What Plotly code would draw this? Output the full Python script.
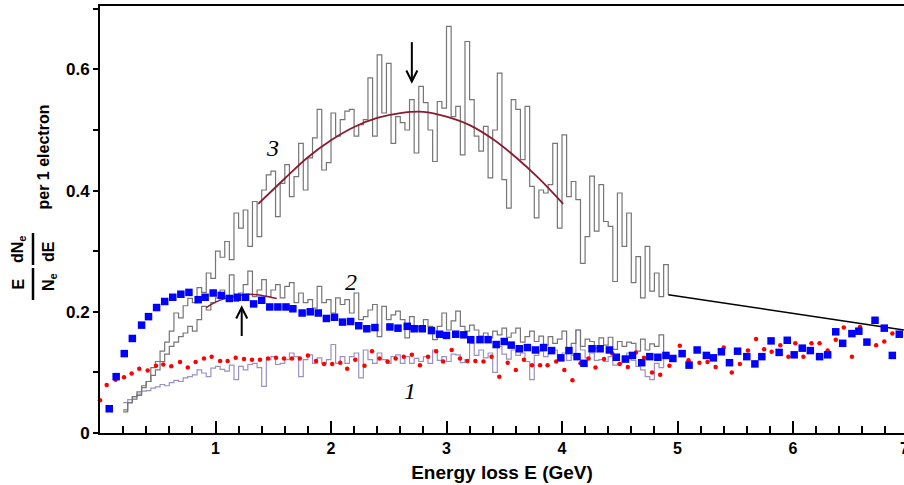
import numpy as np
import plotly.graph_objects as go

# ---------------- data ----------------
bin_start = 0.20
bin_width = 0.04

hist3_vals = [0.035, 0.05, 0.056, 0.062, 0.075, 0.085, 0.108, 0.118, 0.135, 0.15,
              0.168, 0.198, 0.19, 0.21, 0.222, 0.215, 0.24, 0.232, 0.264, 0.255,
              0.30, 0.29, 0.316, 0.286, 0.363, 0.338, 0.368, 0.308, 0.382, 0.324,
              0.401, 0.426, 0.432, 0.357, 0.412, 0.443, 0.39, 0.423, 0.478, 0.401,
              0.454, 0.487, 0.534, 0.434, 0.446, 0.528, 0.49, 0.517, 0.531, 0.534,
              0.49, 0.509, 0.517, 0.586, 0.49, 0.624, 0.528, 0.61, 0.478, 0.522,
              0.512, 0.50, 0.55, 0.462, 0.572, 0.545, 0.50, 0.448, 0.547, 0.536,
              0.671, 0.522, 0.539, 0.459, 0.646, 0.55, 0.49, 0.465, 0.506, 0.421,
              0.50, 0.594, 0.418, 0.371, 0.55, 0.534, 0.451, 0.539, 0.407, 0.355,
              0.401, 0.396, 0.41, 0.478, 0.338, 0.492, 0.39, 0.415, 0.385, 0.28,
              0.324, 0.424, 0.333, 0.41, 0.349, 0.341, 0.25, 0.396, 0.308, 0.363,
              0.248, 0.291, 0.223, 0.308, 0.234, 0.264, 0.225, 0.278]

hist2_vals = [0.038, 0.05, 0.06, 0.068, 0.078, 0.085, 0.095, 0.104, 0.118, 0.13,
              0.143, 0.15, 0.159, 0.165, 0.176, 0.168, 0.187, 0.209, 0.203, 0.215,
              0.223, 0.236, 0.225, 0.261, 0.217, 0.231, 0.245, 0.267, 0.225, 0.236,
              0.253, 0.225, 0.236, 0.245, 0.223, 0.242, 0.248, 0.215, 0.231, 0.215,
              0.22, 0.206, 0.242, 0.215, 0.22, 0.198, 0.223, 0.212, 0.22, 0.198,
              0.231, 0.187, 0.192, 0.203, 0.212, 0.159, 0.209, 0.187, 0.195, 0.201,
              0.187, 0.157, 0.192, 0.176, 0.17, 0.187, 0.176, 0.154, 0.176, 0.198,
              0.17, 0.185, 0.201, 0.176, 0.168, 0.178, 0.17, 0.16, 0.165, 0.157,
              0.168, 0.162, 0.173, 0.158, 0.165, 0.173, 0.15, 0.159, 0.168, 0.151,
              0.16, 0.145, 0.159, 0.148, 0.155, 0.168, 0.14, 0.148, 0.17, 0.143,
              0.155, 0.151, 0.14, 0.157, 0.145, 0.158, 0.138, 0.151, 0.143, 0.15,
              0.148, 0.135, 0.155, 0.137, 0.147, 0.143, 0.162, 0.124]

hist1_vals = [0.05, 0.055, 0.06, 0.064, 0.069, 0.07, 0.074, 0.076, 0.08, 0.078,
              0.083, 0.087, 0.085, 0.091, 0.093, 0.096, 0.104, 0.099, 0.093, 0.107,
              0.11, 0.105, 0.102, 0.112, 0.088, 0.11, 0.104, 0.113, 0.115, 0.108,
              0.077, 0.121, 0.126, 0.113, 0.115, 0.121, 0.132, 0.126, 0.093, 0.121,
              0.129, 0.115, 0.124, 0.115, 0.121, 0.146, 0.115, 0.126, 0.115, 0.126,
              0.132, 0.091, 0.137, 0.121, 0.115, 0.132, 0.121, 0.115, 0.126, 0.129,
              0.115, 0.126, 0.115, 0.123, 0.118, 0.126, 0.115, 0.137, 0.12, 0.126,
              0.118, 0.13, 0.129, 0.116, 0.121, 0.148, 0.128, 0.137, 0.124, 0.132,
              0.10, 0.143, 0.13, 0.122, 0.137, 0.128, 0.132, 0.118, 0.088, 0.128,
              0.135, 0.126, 0.131, 0.137, 0.125, 0.132, 0.12, 0.128, 0.17, 0.137,
              0.124, 0.132, 0.12, 0.121, 0.118, 0.126, 0.112, 0.115, 0.127, 0.132,
              0.12, 0.11, 0.104, 0.093, 0.088, 0.115, 0.108, 0.132]

tail_x = [4.92, 6.96]
tail_y = [0.228, 0.170]

fit3_x = [1.37, 1.6, 1.8, 2.0, 2.2, 2.4, 2.6, 2.8, 3.0, 3.2, 3.4, 3.6, 3.8, 4.01]
fit3_y = [0.378, 0.42, 0.455, 0.483, 0.505, 0.52, 0.528, 0.53, 0.522, 0.508, 0.485, 0.455, 0.42, 0.378]

fit2_x = [0.92, 1.0, 1.1, 1.2, 1.3, 1.4, 1.53]
fit2_y = [0.207, 0.216, 0.223, 0.227, 0.229, 0.227, 0.222]

blue_x = [0.08, 0.14, 0.21, 0.28, 0.36, 0.42, 0.49, 0.56, 0.63, 0.70, 0.77, 0.85, 0.91, 0.98,
          1.05, 1.12, 1.19, 1.26, 1.33, 1.40, 1.47, 1.54, 1.61, 1.67, 1.75, 1.82, 1.89, 1.96,
          2.03, 2.10, 2.17, 2.24, 2.31, 2.38, 2.51, 2.58, 2.66, 2.72, 2.79, 2.87, 2.94, 3.00,
          3.08, 3.15, 3.21, 3.29, 3.36, 3.43, 3.50, 3.56, 3.63, 3.70, 3.77, 3.84, 3.91, 3.99,
          4.06, 4.13, 4.19, 4.26, 4.33, 4.41, 4.47, 4.55, 4.61, 4.69, 4.76, 4.83, 4.90, 4.96,
          5.04, 5.10, 5.17, 5.25, 5.31, 5.38, 5.45, 5.52, 5.60, 5.67, 5.73, 5.81, 5.88, 5.95,
          6.01, 6.08, 6.15, 6.23, 6.30, 6.37, 6.43, 6.51, 6.57, 6.64, 6.71, 6.79, 6.86, 6.92]
blue_y = [0.040, 0.093, 0.131, 0.156, 0.178, 0.192, 0.207, 0.217, 0.224, 0.229, 0.232, 0.220, 0.224, 0.231,
          0.227, 0.222, 0.224, 0.224, 0.213, 0.219, 0.208, 0.208, 0.208, 0.205, 0.198, 0.200, 0.198, 0.189,
          0.191, 0.183, 0.184, 0.177, 0.172, 0.174, 0.175, 0.173, 0.176, 0.172, 0.172, 0.169, 0.163, 0.161,
          0.163, 0.162, 0.154, 0.154, 0.154, 0.146, 0.151, 0.145, 0.139, 0.141, 0.137, 0.141, 0.136, 0.124,
          0.136, 0.126, 0.115, 0.139, 0.139, 0.137, 0.125, 0.122, 0.128, 0.116, 0.126, 0.125, 0.128, 0.123,
          0.131, 0.112, 0.137, 0.128, 0.124, 0.134, 0.116, 0.135, 0.126, 0.114, 0.126, 0.152, 0.133, 0.153,
          0.129, 0.140, 0.136, 0.126, 0.129, 0.167, 0.148, 0.164, 0.168, 0.150, 0.186, 0.173, 0.128, 0.163]

red_x = [0.0, 0.058, 0.135, 0.208, 0.274, 0.34, 0.413, 0.485, 0.548, 0.617, 0.693, 0.76, 0.828, 0.90,
         0.967, 1.04, 1.105, 1.175, 1.247, 1.316, 1.385, 1.455, 1.524, 1.593, 1.662, 1.73, 1.80, 1.87,
         1.94, 2.01, 2.08, 2.14, 2.21, 2.29, 2.355, 2.42, 2.49, 2.56, 2.63, 2.70, 2.77, 2.84, 2.91,
         2.97, 3.045, 3.117, 3.18, 3.25, 3.32, 3.39, 3.457, 3.53, 3.60, 3.67, 3.74, 3.81, 3.875, 3.95,
         4.02, 4.09, 4.16, 4.23, 4.29, 4.364, 4.435, 4.50, 4.57, 4.64, 4.71, 4.78, 4.85, 4.93,
         5.02, 5.095, 5.19, 5.26, 5.33, 5.40, 5.47, 5.54, 5.61, 5.68, 5.75, 5.815, 5.89, 5.96,
         6.02, 6.09, 6.16, 6.23, 6.30, 6.37, 6.44, 6.51, 6.58, 6.72, 6.79, 6.86]
red_y = [0.054, 0.079, 0.088, 0.092, 0.098, 0.106, 0.103, 0.111, 0.113, 0.110, 0.117, 0.108, 0.117, 0.123,
         0.126, 0.119, 0.119, 0.124, 0.122, 0.121, 0.121, 0.123, 0.124, 0.123, 0.123, 0.123, 0.128, 0.119,
         0.114, 0.114, 0.116, 0.106, 0.121, 0.111, 0.135, 0.123, 0.118, 0.123, 0.126, 0.129, 0.112, 0.126, 0.135,
         0.118, 0.137, 0.123, 0.119, 0.119, 0.118, 0.126, 0.093, 0.116, 0.104, 0.121, 0.112, 0.112, 0.112, 0.118,
         0.104, 0.087, 0.115, 0.123, 0.108, 0.122, 0.131, 0.114, 0.109, 0.133, 0.124, 0.100, 0.096, 0.111,
         0.144, 0.120, 0.116, 0.117, 0.109, 0.141, 0.100, 0.114, 0.136, 0.155, 0.138, 0.134, 0.145, 0.126,
         0.148, 0.126, 0.148, 0.148, 0.136, 0.154, 0.174, 0.126, 0.175, 0.145, 0.151, 0.164]

# arrows: (x, tail y, tip y)
arrow_down = (2.70, 0.645, 0.580)
arrow_up = (1.227, 0.160, 0.207)

curve_labels = ["3", "2", "1"]
curve_label_x = [1.49, 2.17, 2.68]
curve_label_y = [0.47, 0.25, 0.069]

x_ticks = [1, 2, 3, 4, 5, 6, 7]
y_ticks = [0, 0.2, 0.4, 0.6]
y_ticktext = ["0", "0.2", "0.4", "0.6"]

# ---------------- figure ----------------
W, H = 904, 485
ML, MR, MT, MB = 100, 0, 6, 52
XR = [0, 6.961]
YR = [0, 0.7046]


def step_xy(vals, end_y=None):
    edges = bin_start + bin_width * np.arange(len(vals) + 1)
    xs = list(edges)
    ys = list(vals) + [vals[-1] if end_y is None else end_y]
    return xs, ys


fig = go.Figure()

for vals, col, endy in [(hist1_vals, "#9b90c4", None),
                        (hist2_vals, "#767676", None),
                        (hist3_vals, "#767676", tail_y[0])]:
    xs, ys = step_xy(vals, endy)
    fig.add_trace(go.Scatter(x=xs, y=ys, mode="lines", line=dict(color=col, width=1.2, shape="hv"),
                             hoverinfo="skip", showlegend=False))

fig.add_trace(go.Scatter(x=tail_x, y=tail_y, mode="lines", line=dict(color="black", width=1.5),
                         showlegend=False))
fig.add_trace(go.Scatter(x=fit3_x, y=fit3_y, mode="lines", line=dict(color="#8b1a2e", width=1.8, shape="spline"),
                         showlegend=False))
fig.add_trace(go.Scatter(x=fit2_x, y=fit2_y, mode="lines", line=dict(color="#8b1a2e", width=1.5, shape="spline"),
                         showlegend=False))
fig.add_trace(go.Scatter(x=red_x, y=red_y, mode="markers",
                         marker=dict(color="#ff0000", size=4.5, symbol="circle", line=dict(width=0)),
                         showlegend=False, cliponaxis=False))
fig.add_trace(go.Scatter(x=blue_x, y=blue_y, mode="markers",
                         marker=dict(color="#0000ff", size=7.5, symbol="square", line=dict(width=0)),
                         showlegend=False, cliponaxis=False))

# arrows drawn as shapes in data coordinates
px_x = (W - ML - MR) / (XR[1] - XR[0])
px_y = (H - MT - MB) / (YR[1] - YR[0])
head_hw = 5.5 / px_x
head_h = 11 / px_y
for (ax_, ytail, ytip) in [arrow_down, arrow_up]:
    sgn = 1 if ytip > ytail else -1
    fig.add_shape(type="line", xref="x", yref="y", x0=ax_, x1=ax_, y0=ytail, y1=ytip,
                  line=dict(color="black", width=2))
    base = ytip - sgn * head_h
    fig.add_shape(type="path", xref="x", yref="y",
                  path=f"M {ax_ - head_hw},{base} L {ax_},{ytip} L {ax_ + head_hw},{base}",
                  line=dict(color="black", width=2))

for t, lx, ly in zip(curve_labels, curve_label_x, curve_label_y):
    fig.add_annotation(x=lx, y=ly, xref="x", yref="y", text=t, showarrow=False,
                       font=dict(family="Liberation Serif, Times New Roman, serif", size=24,
                                 style="italic", color="black"))


def pxp(px, py):
    return (px - ML) / (W - ML - MR), (H - MB - py) / (H - MT - MB)


bold = dict(family="Liberation Sans, Arial, sans-serif", size=16, color="black", weight="bold")

for txt, (px, py) in [("E", (18, 284.5)), ("dN<sub>e</sub>", (19, 249)),
                      ("N<sub>e</sub>", (49, 282)), ("dE", (48, 252))]:
    xp, yp = pxp(px, py)
    fig.add_annotation(x=xp, y=yp, xref="paper", yref="paper", text=txt, textangle=-90,
                       showarrow=False, font=bold, xanchor="center", yanchor="middle")

for (y0, y1) in [(268, 300), (233, 265)]:
    xa, ya = pxp(33, y0)
    xb, yb = pxp(33, y1)
    fig.add_shape(type="line", xref="paper", yref="paper", x0=xa, x1=xb, y0=ya, y1=yb,
                  line=dict(color="black", width=2.5))

xp, yp = pxp(33, 157)
fig.add_annotation(x=xp, y=yp, xref="paper", yref="paper", text="per 1 electron", textangle=-90,
                   showarrow=False, font=dict(family="Liberation Sans, Arial, sans-serif", size=16,
                                              color="black", weight="bold"))

xp, yp = pxp(904, 448)
fig.add_annotation(x=xp, y=yp, xref="paper", yref="paper", text="7", showarrow=False,
                   xanchor="left", yanchor="middle", xshift=-6,
                   font=dict(family="Liberation Sans, Arial, sans-serif", size=16, color="black",
                             weight="bold"))

fig.update_layout(
    width=W, height=H,
    margin=dict(l=ML, r=MR, t=MT, b=MB, pad=0, autoexpand=False),
    paper_bgcolor="white", plot_bgcolor="white",
    showlegend=False,
    xaxis=dict(range=XR, showgrid=False, zeroline=False, showline=True, linecolor="black",
               linewidth=2, mirror=True, tickmode="array", tickvals=x_ticks, automargin=False,
               ticks="inside", ticklen=12, tickwidth=2, tickcolor="black",
               tickfont=dict(family="Liberation Sans, Arial, sans-serif", size=16, color="black",
                             weight="bold"),
               minor=dict(dtick=0.2, tick0=0, ticks="inside", ticklen=7, tickwidth=2,
                          tickcolor="black", showgrid=False),
               title=dict(text="Energy loss E (GeV)", standoff=9,
                          font=dict(family="Liberation Sans, Arial, sans-serif", size=19,
                                    color="black", weight="bold"))),
    yaxis=dict(range=YR, showgrid=False, zeroline=False, showline=True, linecolor="black",
               linewidth=2, mirror=False, tickmode="array", tickvals=y_ticks, ticktext=y_ticktext,
               ticks="outside", ticklen=5, tickwidth=2, tickcolor="black", automargin=False,
               tickfont=dict(family="Liberation Sans, Arial, sans-serif", size=17, color="black",
                             weight="bold"),
               minor=dict(dtick=0.1, tick0=0, ticks="outside", ticklen=5, tickwidth=2,
                          tickcolor="black", showgrid=False)),
)

fig.write_html("out.html", config={"displayModeBar": False},
               post_script="document.body.style.margin='0';document.body.style.overflow='hidden';")
